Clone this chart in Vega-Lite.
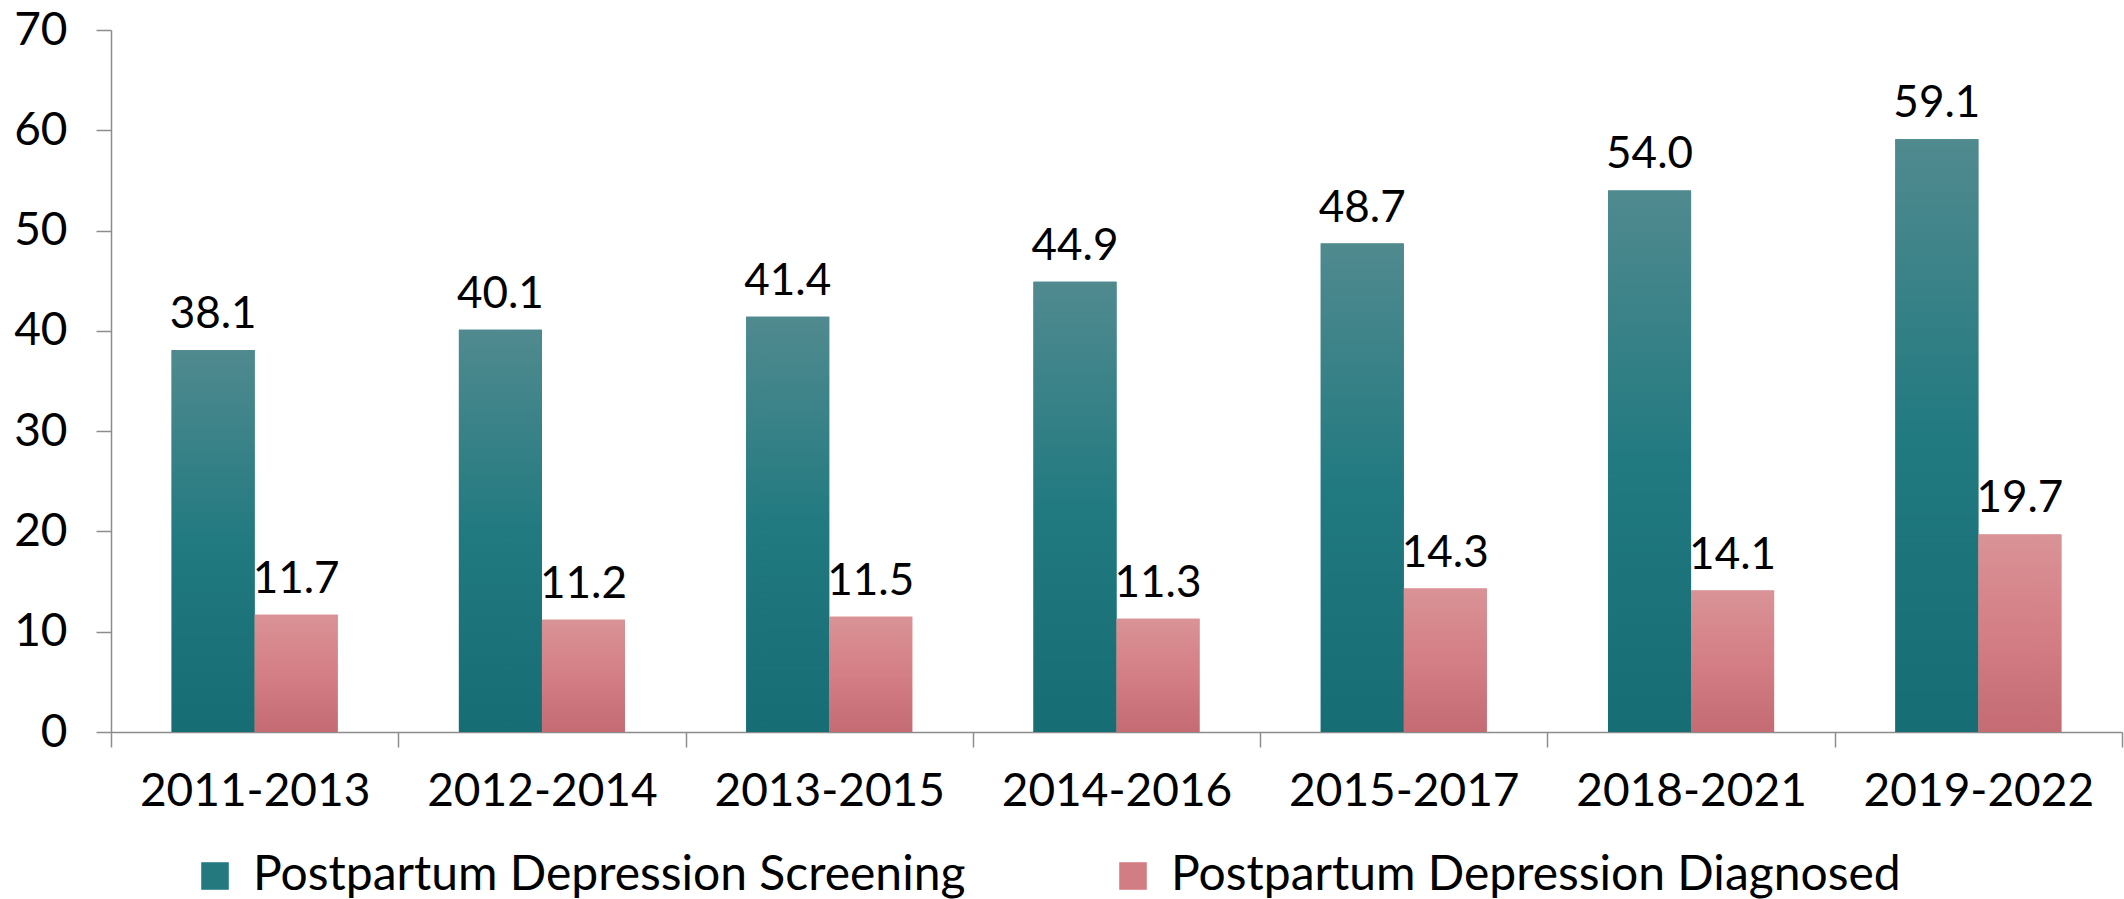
{
  "$schema": "https://vega.github.io/schema/vega-lite/v6.json",
  "width": 2011,
  "height": 702,
  "autosize": {"type": "none"},
  "padding": {"left": 111, "top": 30, "right": 2, "bottom": 167},
  "background": "white",
  "config": {
    "view": {"stroke": null},
    "font": "Lato",
    "axis": {"grid": false, "domainColor": "#8c8c8c", "tickColor": "#8c8c8c", "domainWidth": 1.5, "tickWidth": 1.5, "labelColor": "#000000", "labelFont": "Lato", "labelFontSize": 46, "labelLimit": 500, "title": null}
  },
  "data": {
    "values": [
      {"period": "2011-2013", "series": "Postpartum Depression Screening", "value": 38.1},
      {"period": "2011-2013", "series": "Postpartum Depression Diagnosed", "value": 11.7},
      {"period": "2012-2014", "series": "Postpartum Depression Screening", "value": 40.1},
      {"period": "2012-2014", "series": "Postpartum Depression Diagnosed", "value": 11.2},
      {"period": "2013-2015", "series": "Postpartum Depression Screening", "value": 41.4},
      {"period": "2013-2015", "series": "Postpartum Depression Diagnosed", "value": 11.5},
      {"period": "2014-2016", "series": "Postpartum Depression Screening", "value": 44.9},
      {"period": "2014-2016", "series": "Postpartum Depression Diagnosed", "value": 11.3},
      {"period": "2015-2017", "series": "Postpartum Depression Screening", "value": 48.7},
      {"period": "2015-2017", "series": "Postpartum Depression Diagnosed", "value": 14.3},
      {"period": "2018-2021", "series": "Postpartum Depression Screening", "value": 54.0},
      {"period": "2018-2021", "series": "Postpartum Depression Diagnosed", "value": 14.1},
      {"period": "2019-2022", "series": "Postpartum Depression Screening", "value": 59.1},
      {"period": "2019-2022", "series": "Postpartum Depression Diagnosed", "value": 19.7}
    ]
  },
  "encoding": {
    "x": {
      "field": "period", "type": "nominal", "sort": null,
      "scale": {"paddingInner": 0, "paddingOuter": 0},
      "axis": {"labelAngle": 0, "tickBand": "extent", "tickSize": 15, "labelPadding": 22}
    },
    "xOffset": {
      "field": "series", "type": "nominal",
      "scale": {"domain": ["Postpartum Depression Screening", "Postpartum Depression Diagnosed"], "paddingInner": 0, "paddingOuter": 0.73}
    },
    "y": {
      "field": "value", "type": "quantitative",
      "scale": {"domain": [0, 70]},
      "axis": {"values": [0, 10, 20, 30, 40, 50, 60, 70], "tickSize": 15, "labelPadding": 29}
    }
  },
  "layer": [
    {
      "mark": {"type": "bar"},
      "encoding": {
        "color": {
          "field": "series", "type": "nominal",
          "scale": {"domain": ["Postpartum Depression Screening", "Postpartum Depression Diagnosed"], "range": ["#24797f", "#d27c83"]},
          "legend": {
            "orient": "none", "legendX": 80, "legendY": 822, "direction": "horizontal", "title": null,
            "symbolType": "square", "symbolSize": 760, "symbolStrokeWidth": 0,
            "labelFontSize": 48, "labelFont": "Lato", "labelColor": "#000000", "labelLimit": 1200,
            "labelOffset": 14, "columnPadding": 143
          }
        }
      }
    },
    {
      "transform": [{"filter": "datum.series === 'Postpartum Depression Screening'"}],
      "mark": {"type": "bar", "color": {"gradient": "linear", "x1": 0, "y1": 0, "x2": 0, "y2": 1, "stops": [{"offset": 0, "color": "#508a8f"}, {"offset": 0.5, "color": "#217a80"}, {"offset": 1, "color": "#166d73"}]}}
    },
    {
      "transform": [{"filter": "datum.series === 'Postpartum Depression Diagnosed'"}],
      "mark": {"type": "bar", "color": {"gradient": "linear", "x1": 0, "y1": 0, "x2": 0, "y2": 1, "stops": [{"offset": 0, "color": "#d99396"}, {"offset": 0.5, "color": "#d47e85"}, {"offset": 1, "color": "#c46b73"}]}}
    },
    {
      "mark": {"type": "text", "baseline": "alphabetic", "dy": -22, "fontSize": 44, "font": "Lato", "color": "#000000"},
      "encoding": {"text": {"field": "value", "type": "quantitative", "format": ".1f"}}
    }
  ]
}
